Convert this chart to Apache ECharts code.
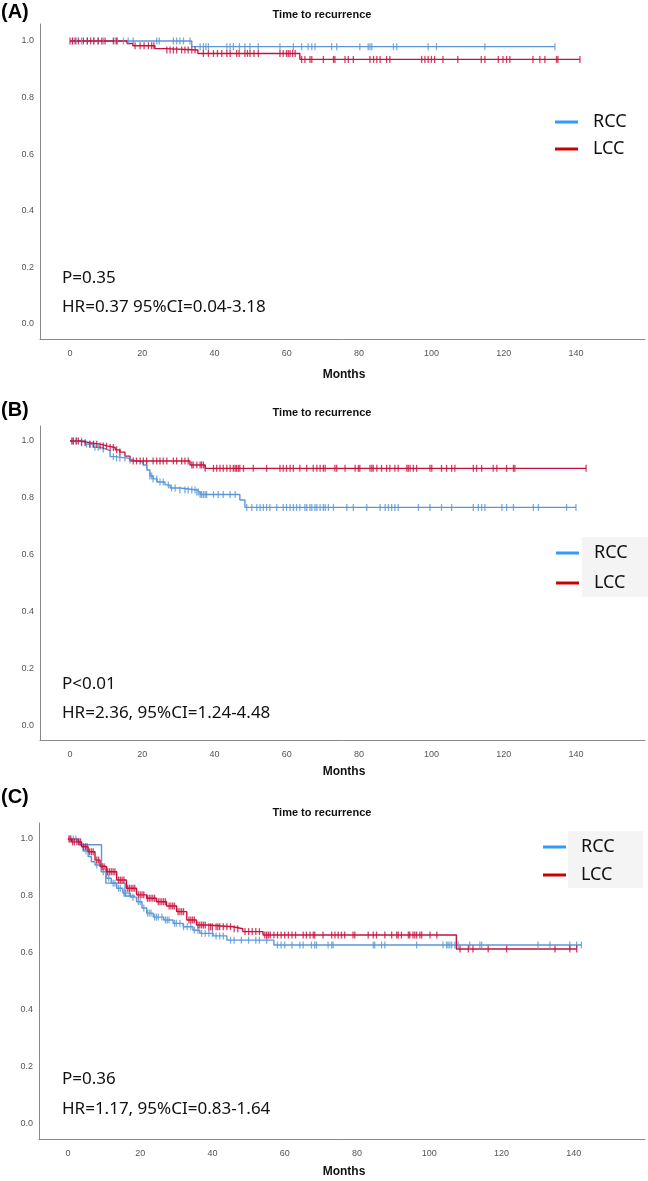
<!DOCTYPE html>
<html>
<head>
<meta charset="utf-8">
<script src="https://cdn.jsdelivr.net/npm/echarts@6/dist/echarts.min.js"></script>
<style>html,body{margin:0;padding:0;background:#fff}#c{width:648px;height:1181px}</style>
</head>
<body>
<div id="c"></div>
<script>
// ---------- DATA ----------
const xTicks = [0, 20, 40, 60, 80, 100, 120, 140];
const yTicks = [0, 0.2, 0.4, 0.6, 0.8, 1.0];
const panelLabels = ['(A)', '(B)', '(C)'];
const groupNames = ['RCC', 'LCC'];
const statsP = ['P=0.35', 'P<0.01', 'P=0.36'];
const statsHR = ['HR=0.37 95%CI=0.04-3.18', 'HR=2.36, 95%CI=1.24-4.48', 'HR=1.17, 95%CI=0.83-1.64'];

// Panel A
const A_RCC_steps = [[0,1],[33.7,0.98]];
const A_RCC_end = 134.2;
const A_RCC_cens = [0.7,1.7,3.2,4.8,6.5,7.8,9.2,12.5,13.1,14.8,16.1,17.5,24,24.7,28.6,29.5,30.4,31.4,33.2,36,36.9,37.6,38.3,43.4,44.3,45.2,46.9,48.4,49.8,52.1,58.1,61.8,64.1,65.9,66.9,67.8,72.4,73.8,80.2,82.5,83,83.5,89.5,90.4,99.1,101.4,114.8,134.2];
const A_LCC_steps = [[0,1],[15.8,0.991],[17.4,0.983],[23.5,0.973],[26.3,0.968],[35.4,0.956],[63.6,0.935]];
const A_LCC_end = 141.1;
const A_LCC_cens = [0,0.7,1.4,2.3,3.7,4.8,5.7,6.6,7.8,8.8,9.7,12,12.9,18,19.4,20.5,21.7,22.6,23.2,26.8,27.7,28.6,29.5,30.9,31.8,32.7,33.7,34.6,36.9,38.3,39.7,40.8,42,43.4,44.3,46.1,46.8,48.4,49.1,49.8,50.9,52.1,58.1,59,59.9,60.4,60.9,61.6,62.3,64.1,65,66.4,66.9,70.1,72.9,73.3,76.1,77,78.4,83,84,84.9,85.8,87.6,88.5,97.3,98.2,99.1,100,100.9,103.2,107.3,113.8,114.8,118.5,119.8,120.8,121.7,128.1,130,131.4,134.6,135,141.1];

// Panel B
const B_RCC_steps = [[0,1],[4.2,0.989],[6.4,0.978],[8.3,0.972],[10,0.965],[11.1,0.945],[12.5,0.94],[16,0.933],[17.5,0.926],[20.2,0.916],[21.3,0.898],[22.1,0.877],[23,0.867],[24.1,0.856],[26.3,0.846],[27.7,0.835],[30.4,0.828],[35.1,0.821],[36,0.812],[47,0.793],[48.4,0.767]];
const B_RCC_end = 140;
const B_RCC_cens = [0.9,1.8,3.2,4.6,5.5,6.9,7.8,9.2,12,12.9,13.8,15.2,16.6,21.2,22.1,22.6,23,24,24.9,25.8,27.2,28.1,29.1,30.4,31.8,32.7,33.7,34.6,35.1,35.5,36,36.4,36.9,37.4,37.8,39.7,41,42.4,44.3,45.7,48.9,50.3,51.7,52.6,53.5,54.4,55.3,57.2,59,59.9,60.9,61.8,62.7,63.6,65,65.5,66.4,66.9,67.8,68.3,69.2,70.1,70.6,71.5,72.9,76.6,78.4,82.1,85.8,87.2,88.1,89,89.9,90.8,96.4,99.6,102.8,105.6,111.6,113,113.9,114.8,119.5,120.8,122.7,128.2,129.6,137.4,140];
const B_LCC_steps = [[0,1],[2.8,0.994],[5.5,0.989],[8.3,0.982],[10.5,0.977],[12.5,0.969],[13.8,0.961],[15.2,0.947],[16.6,0.93],[33.2,0.916],[37.4,0.904]];
const B_LCC_end = 142.8;
const B_LCC_cens = [0.5,0.9,1.7,2.3,3.2,4.2,5.5,6.5,7.4,8.3,9.2,10.1,11.1,12,12.9,13.8,17.5,18.4,19.4,20.3,21.2,23,24,24.9,25.8,26.8,28.6,29.5,30.9,31.8,32.7,33.7,34.1,35.1,36,36.4,36.9,37.4,39.7,40.6,41.5,42.4,43.4,44.3,45.2,45.7,46.1,46.6,47,48,50.7,54.4,58.1,59,59.9,60.9,61.8,63.6,65.5,67.3,68.3,69.2,70.1,70.6,73.3,73.8,76.1,78.9,79.8,80.2,83,83.5,83.9,84.9,86.2,87.6,88.5,89.9,90.8,93.2,93.6,94.1,95,95.9,99.6,100.1,102.8,104.2,105.6,106.5,111.6,112.5,113.9,117.1,118.1,120.8,122.7,123.1,142.8];

// Panel C
const C_RCC_steps = [[0,1],[2.5,0.99],[3.3,0.979],[4.2,0.958],[5.6,0.938],[6.5,0.92],[7.5,0.909],[9.2,0.885],[10.7,0.862],[12,0.845],[13.5,0.827],[15.2,0.81],[17.3,0.796],[19,0.78],[20.5,0.758],[21.8,0.74],[23.6,0.726],[26.5,0.716],[29.1,0.704],[31.9,0.692],[34.6,0.68],[36.5,0.669],[40.2,0.66],[44,0.645],[57,0.628]];
const C_RCC_end = 142.1;
const C_RCC_cens = [0.5,1.5,2.2,5,8,9.8,11.3,12.5,13,14,14.5,15.5,16,17,18,19.5,20,21,22,22.5,23,24,24.5,25,26,27,27.5,28,29.5,30,31,32,33,34,35,36,37,38,39,40,41,42,43,45,46,48,50,52,53,55,58,59,60,62,64.2,65.1,67.4,68.3,68.8,72,73,73.4,84.5,84.9,86.8,87.7,96.5,103.8,104.8,105.2,105.7,106.2,107.1,108,111.2,114,114.5,130.1,133.4,138.9,140.8,142.1];
const C_RCC2_steps = [[0,1],[3,0.98],[9.3,0.905],[10.5,0.845],[15.8,0.80]];
const C_RCC2_end = 18.6;
const C_LCC_steps = [[0,1],[1,0.99],[3.8,0.973],[5.6,0.955],[7.5,0.926],[8.9,0.903],[10.7,0.885],[13.5,0.856],[16.2,0.827],[19,0.804],[21.8,0.792],[24.5,0.78],[27.3,0.765],[30.1,0.745],[32.9,0.716],[35.6,0.698],[38.4,0.692],[45.7,0.685],[48.4,0.675],[54,0.663],[107.5,0.614]];
const C_LCC_end = 140.8;
const C_LCC_cens = [0.3,0.8,1.3,1.8,2.5,3,3.5,4.3,4.8,5.3,6,6.5,7,8,8.5,9.5,10,11,11.5,12,12.5,13,14,14.5,15,15.5,16.5,17,17.5,18,18.5,19.5,20,20.5,21,22,22.5,23,23.5,24,25,25.5,26,26.5,27,28,28.5,29,29.5,30.5,31,31.5,32,33.5,34,34.5,35,36,36.5,37,37.5,38,39,39.5,40,41,41.5,42,43,44,45,46,47,49,50,51,52,53,54.5,55,55.5,56,57,58,59,60,61,62,63,65.1,66,67,67.9,68.3,70.6,73,73.9,74.8,75.7,76.6,78.9,79.4,83.1,84.5,85.4,87.7,89.6,91,91.4,92.3,94.2,94.6,95.5,96,96.5,97.4,97.9,100.2,102.1,108.5,110.8,112.1,116.3,121.4,134.8,138.9,140.8];

// ---------- LAYOUT ----------
const BLUE = '#5b97d6', RED = '#c8103c';
const LEG_BLUE = '#3399ff', LEG_RED = '#cc0000';
const panels = [
  {top:24, height:315, left:40, width:605, xmin:-8.3, xmax:159.1, ymin:-0.053, ymax:1.06,
   rcc:[A_RCC_steps,A_RCC_end,A_RCC_cens], lcc:[A_LCC_steps,A_LCC_end,A_LCC_cens],
   labelY:12, titleY:15, monthsY:375, pY:278, hrY:307, legLeft:555, legTop:112, legGap:7, legBox:null},
  {top:426, height:314, left:40, width:605, xmin:-8.3, xmax:159.1, ymin:-0.0491, ymax:1.0526,
   rcc:[B_RCC_steps,B_RCC_end,B_RCC_cens], lcc:[B_LCC_steps,B_LCC_end,B_LCC_cens],
   labelY:410, titleY:413, monthsY:772, pY:684, hrY:713, legLeft:556, legTop:543, legGap:10, legBox:[582,537,66,60]},
  {top:823, height:316, left:39, width:606, xmin:-8.0, xmax:159.7, ymin:-0.0526, ymax:1.0561,
   rcc:[C_RCC_steps,C_RCC_end,C_RCC_cens], lcc:[C_LCC_steps,C_LCC_end,C_LCC_cens],
   labelY:797, titleY:813, monthsY:1172, pY:1079, hrY:1109, legLeft:543, legTop:837, legGap:8, legBox:[568,831,75,57]}
];

function lineData(steps, end) {
  const d = steps.map(p => [p[0], p[1]]);
  d.push([end, steps[steps.length - 1][1]]);
  return d;
}
function levelAt(steps, t) {
  let v = steps[0][1];
  for (const p of steps) { if (p[0] <= t) v = p[1]; }
  return v;
}
function censData(steps, cens) { return cens.map(t => [t, levelAt(steps, t)]); }

const grids = [], xAxes = [], yAxes = [], series = [], legends = [], graphics = [];
panels.forEach((p, i) => {
  grids.push({left:p.left, top:p.top, width:p.width, height:p.height, containLabel:false});
  xAxes.push({type:'value', gridIndex:i, min:p.xmin, max:p.xmax,
    axisLine:{show:true, onZero:false, lineStyle:{color:'#8a8a8a', width:1}},
    axisTick:{show:false}, splitLine:{show:false},
    axisLabel:{customValues:xTicks, color:'#555', fontSize:9, fontFamily:'Liberation Sans', margin:10}});
  yAxes.push({type:'value', gridIndex:i, min:p.ymin, max:p.ymax,
    axisLine:{show:true, onZero:false, lineStyle:{color:'#8a8a8a', width:1}},
    axisTick:{show:false}, splitLine:{show:false},
    axisLabel:{customValues:yTicks, color:'#555', fontSize:9, fontFamily:'Liberation Sans', margin:6,
      formatter: v => v.toFixed(1)}});
  const mk = (name, color, st, end, cens) => {
    series.push({name:name, type:'line', step:'end', xAxisIndex:i, yAxisIndex:i, showSymbol:false,
      data:lineData(st, end), lineStyle:{color:color, width:1.4}, itemStyle:{color:color}, silent:true, z:3});
    if (cens) series.push({name:name + ' censored', type:'scatter', xAxisIndex:i, yAxisIndex:i,
      symbol:'rect', symbolSize:[1.3, 7], data:censData(st, cens), itemStyle:{color:color}, silent:true, z:4});
  };
  mk('RCC', BLUE, p.rcc[0], p.rcc[1], p.rcc[2]);
  if (i === 2) mk('RCC', BLUE, C_RCC2_steps, C_RCC2_end, null);
  mk('LCC', RED, p.lcc[0], p.lcc[1], p.lcc[2]);

  legends.push({orient:'vertical', left:p.legLeft, top:p.legTop, padding:0, itemGap:p.legGap,
    icon:'rect', itemWidth:23, itemHeight:3, selectedMode:false,
    textStyle:{fontSize:18, fontFamily:'Noto Sans', color:'#111', lineHeight:20, padding:[0,0,0,10]},
    data:[{name:'RCC', itemStyle:{color:LEG_BLUE}}, {name:'LCC', itemStyle:{color:LEG_RED}}]});

  if (p.legBox) graphics.push({type:'rect', shape:{x:p.legBox[0], y:p.legBox[1], width:p.legBox[2], height:p.legBox[3]},
    style:{fill:'#f4f4f4'}, z:-1, silent:true});
  graphics.push({type:'text', x:1, y:p.labelY, style:{text:panelLabels[i], font:'bold 20px "Liberation Sans"', fill:'#000', verticalAlign:'middle'}});
  graphics.push({type:'text', x:322, y:p.titleY, style:{text:'Time to recurrence', font:'bold 11px "Liberation Sans"', fill:'#111', align:'center', verticalAlign:'middle'}});
  graphics.push({type:'text', x:344, y:p.monthsY, style:{text:'Months', font:'bold 12px "Liberation Sans"', fill:'#111', align:'center', verticalAlign:'middle'}});
  graphics.push({type:'text', x:62, y:p.pY, style:{text:statsP[i], font:'17px "Noto Sans"', fill:'#111', verticalAlign:'middle'}});
  graphics.push({type:'text', x:62, y:p.hrY, style:{text:statsHR[i], font:'17px "Noto Sans"', fill:'#111', verticalAlign:'middle'}});
});

const chart = echarts.init(document.getElementById('c'), null, {renderer:'canvas', width:648, height:1181});
chart.setOption({
  animation:false, backgroundColor:'#fff',
  grid:grids, xAxis:xAxes, yAxis:yAxes, series:series, legend:legends, graphic:graphics
});
</script>
</body>
</html>
